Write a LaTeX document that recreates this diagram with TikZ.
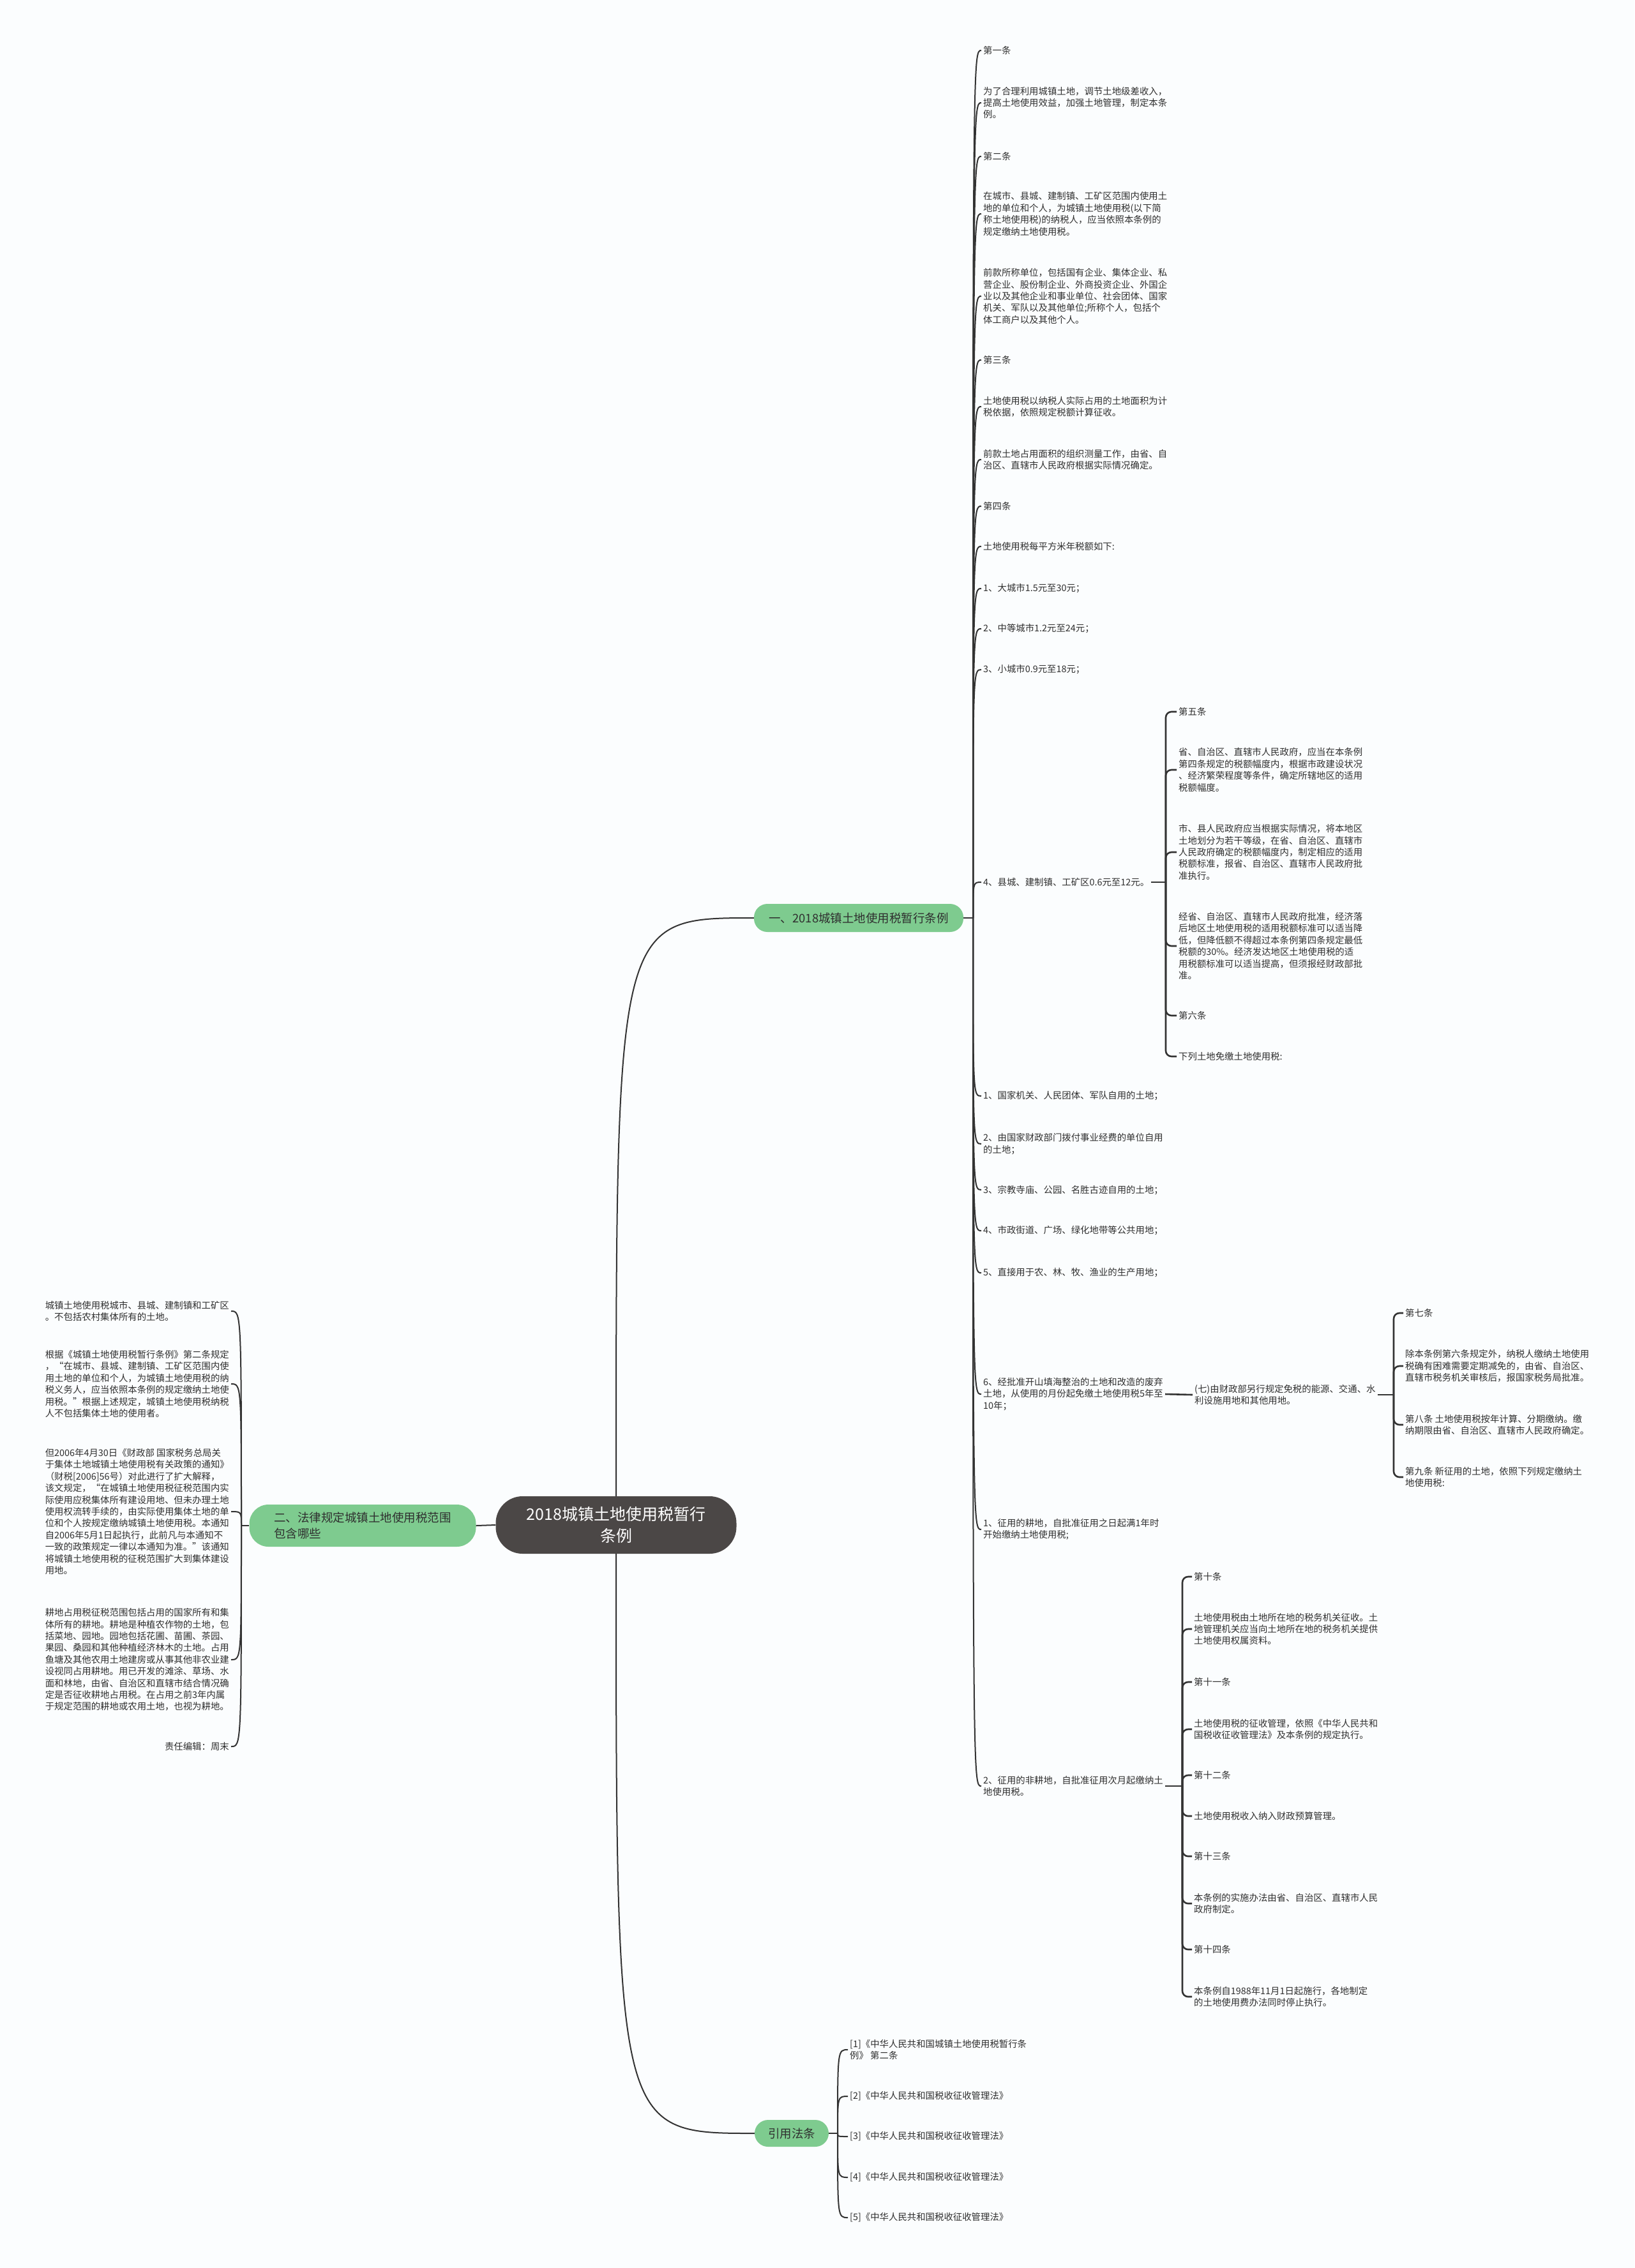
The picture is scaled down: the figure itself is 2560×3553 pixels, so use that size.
\documentclass[tikz,border=0pt]{standalone}
\usepackage{fontspec}
\setmainfont{Noto Sans CJK SC}
\usepackage{xcolor}
\usepackage{tikz}
\usetikzlibrary{calc}
\definecolor{pagebg}{HTML}{FBFDFE}
\definecolor{rootgray}{HTML}{4B4746}
\definecolor{topicgreen}{HTML}{7ECB8F}
\definecolor{linkgray}{HTML}{333333}
\definecolor{textgray}{HTML}{2F2F2F}

\tikzset{
    leaf/.style={inner xsep=3pt, inner ysep=2pt, align=left, text=textgray,
                 font=\fontsize{14.4}{18.4}\selectfont},
    topic/.style={fill=topicgreen, rounded corners=21pt, text=textgray, inner xsep=0pt,
                  font=\fontsize{18.5}{25}\selectfont},
    link/.style={draw=linkgray, line width=2pt},
    bracket/.style={draw=linkgray, line width=2.6pt, rounded corners=9pt},
}

\begin{document}
\begin{tikzpicture}[x=1pt, y=-1pt]
    \useasboundingbox (0,0) rectangle (2560,3553);
    \fill[pagebg] (0,0) rectangle (2560,3553);

    % centre and main topics
    \node[fill=rootgray, rounded corners=42pt, minimum width=377pt, minimum height=90pt,
          text=white, align=center, font=\fontsize{25}{34}\selectfont] (root) at (965,2389)
          {2018城镇土地使用税暂行\\条例};
    \node[topic, minimum width=328pt, minimum height=44pt] (t1) at (1345,1438)
          {一、2018城镇土地使用税暂行条例};
    \node[topic, minimum width=355pt, minimum height=66pt, rounded corners=30pt, align=left] (t2) at (568,2390)
          {二、法律规定城镇土地使用税范围\\包含哪些};
    \node[topic, minimum width=116pt, minimum height=42pt] (t3) at (1240,3342) {引用法条};

    \draw[link] (root.north) .. controls (root.north |- t1.west) .. (t1.west);
    \draw[link] (root.south) .. controls (root.south |- t3.west) .. (t3.west);
    \draw[link] (root.west) -- (t2.east);

    % first topic
    \node[leaf, anchor=west] (a1) at (1537,79) {第一条};
    \node[leaf, anchor=west] (a2) at (1537,161) {为了合理利用城镇土地，调节土地级差收入，\\提高土地使用效益，加强土地管理，制定本条\\例。};
    \node[leaf, anchor=west] (a3) at (1537,245) {第二条};
    \node[leaf, anchor=west] (a4) at (1537,335) {在城市、县城、建制镇、工矿区范围内使用土\\地的单位和个人，为城镇土地使用税(以下简\\称土地使用税)的纳税人，应当依照本条例的\\规定缴纳土地使用税。};
    \node[leaf, anchor=west] (a5) at (1537,464) {前款所称单位，包括国有企业、集体企业、私\\营企业、股份制企业、外商投资企业、外国企\\业以及其他企业和事业单位、社会团体、国家\\机关、军队以及其他单位;所称个人，包括个\\体工商户以及其他个人。};
    \node[leaf, anchor=west] (a6) at (1537,564) {第三条};
    \node[leaf, anchor=west] (a7) at (1537,637) {土地使用税以纳税人实际占用的土地面积为计\\税依据，依照规定税额计算征收。};
    \node[leaf, anchor=west] (a8) at (1537,720) {前款土地占用面积的组织测量工作，由省、自\\治区、直辖市人民政府根据实际情况确定。};
    \node[leaf, anchor=west] (a9) at (1537,793) {第四条};
    \node[leaf, anchor=west] (a10) at (1537,856) {土地使用税每平方米年税额如下:};
    \node[leaf, anchor=west] (a11) at (1537,922) {1、大城市1.5元至30元；};
    \node[leaf, anchor=west] (a12) at (1537,985) {2、中等城市1.2元至24元；};
    \node[leaf, anchor=west] (a13) at (1537,1049) {3、小城市0.9元至18元；};
    \node[leaf, anchor=west] (a14) at (1537,1382) {4、县城、建制镇、工矿区0.6元至12元。};
    \node[leaf, anchor=west] (a15) at (1537,1717) {1、国家机关、人民团体、军队自用的土地；};
    \node[leaf, anchor=west] (a16) at (1537,1792) {2、由国家财政部门拨付事业经费的单位自用\\的土地；};
    \node[leaf, anchor=west] (a17) at (1537,1864) {3、宗教寺庙、公园、名胜古迹自用的土地；};
    \node[leaf, anchor=west] (a18) at (1537,1928) {4、市政街道、广场、绿化地带等公共用地；};
    \node[leaf, anchor=west] (a19) at (1537,1994) {5、直接用于农、林、牧、渔业的生产用地；};
    \node[leaf, anchor=west] (a20) at (1537,2184) {6、经批准开山填海整治的土地和改造的废弃\\土地，从使用的月份起免缴土地使用税5年至\\10年；};
    \node[leaf, anchor=west] (a21) at (1537,2396) {1、征用的耕地，自批准征用之日起满1年时\\开始缴纳土地使用税;};
    \node[leaf, anchor=west] (a22) at (1537,2798) {2、征用的非耕地，自批准征用次月起缴纳土\\地使用税。};

    \coordinate (j1) at (1524,1438);
    \draw[link] (t1.east) -- (j1);
    \foreach \i in {1,...,22}
        \draw[link] (j1) .. controls (j1 |- a\i.west) .. (a\i.west);

    \node[leaf, anchor=west] (b1) at (1843,1115) {第五条};
    \node[leaf, anchor=west] (b2) at (1843,1206) {省、自治区、直辖市人民政府，应当在本条例\\第四条规定的税额幅度内，根据市政建设状况\\、经济繁荣程度等条件，确定所辖地区的适用\\税额幅度。};
    \node[leaf, anchor=west] (b3) at (1843,1335) {市、县人民政府应当根据实际情况，将本地区\\土地划分为若干等级，在省、自治区、直辖市\\人民政府确定的税额幅度内，制定相应的适用\\税额标准，报省、自治区、直辖市人民政府批\\准执行。};
    \node[leaf, anchor=west] (b4) at (1843,1482) {经省、自治区、直辖市人民政府批准，经济落\\后地区土地使用税的适用税额标准可以适当降\\低，但降低额不得超过本条例第四条规定最低\\税额的30\%。经济发达地区土地使用税的适\\用税额标准可以适当提高，但须报经财政部批\\准。};
    \node[leaf, anchor=west] (b5) at (1843,1591) {第六条};
    \node[leaf, anchor=west] (b6) at (1843,1655) {下列土地免缴土地使用税:};

    \coordinate (j5) at (1826,1382);
    \draw[bracket] (a14.east) -- (j5);
    \foreach \i in {1,...,6}
        \draw[bracket] (j5) |- (b\i.west);

    \node[leaf, anchor=west] (c1) at (1868,2185) {(七)由财政部另行规定免税的能源、交通、水\\利设施用地和其他用地。};
    \draw[bracket] (a20.east) -- (c1.west);

    \node[leaf, anchor=west] (d1) at (2198,2057) {第七条};
    \node[leaf, anchor=west] (d2) at (2198,2140) {除本条例第六条规定外，纳税人缴纳土地使用\\税确有困难需要定期减免的，由省、自治区、\\直辖市税务机关审核后，报国家税务局批准。};
    \node[leaf, anchor=west] (d3) at (2198,2232) {第八条 土地使用税按年计算、分期缴纳。缴\\纳期限由省、自治区、直辖市人民政府确定。};
    \node[leaf, anchor=west] (d4) at (2198,2314) {第九条 新征用的土地，依照下列规定缴纳土\\地使用税:};

    \coordinate (j7) at (2183,2185);
    \draw[bracket] (c1.east) -- (j7);
    \foreach \i in {1,...,4}
        \draw[bracket] (j7) |- (d\i.west);

    \node[leaf, anchor=west] (e1) at (1867,2470) {第十条};
    \node[leaf, anchor=west] (e2) at (1867,2552) {土地使用税由土地所在地的税务机关征收。土\\地管理机关应当向土地所在地的税务机关提供\\土地使用权属资料。};
    \node[leaf, anchor=west] (e3) at (1867,2635) {第十一条};
    \node[leaf, anchor=west] (e4) at (1867,2709) {土地使用税的征收管理，依照《中华人民共和\\国税收征收管理法》及本条例的规定执行。};
    \node[leaf, anchor=west] (e5) at (1867,2781) {第十二条};
    \node[leaf, anchor=west] (e6) at (1867,2845) {土地使用税收入纳入财政预算管理。};
    \node[leaf, anchor=west] (e7) at (1867,2908) {第十三条};
    \node[leaf, anchor=west] (e8) at (1867,2982) {本条例的实施办法由省、自治区、直辖市人民\\政府制定。};
    \node[leaf, anchor=west] (e9) at (1867,3054) {第十四条};
    \node[leaf, anchor=west] (e10) at (1867,3128) {本条例自1988年11月1日起施行，各地制定\\的土地使用费办法同时停止执行。};

    \coordinate (j8) at (1852,2798);
    \draw[bracket] (a22.east) -- (j8);
    \foreach \i in {1,...,10}
        \draw[bracket] (j8) |- (e\i.west);

    % second topic, on the left
    \node[leaf, anchor=east] (l1) at (362,2054) {城镇土地使用税城市、县城、建制镇和工矿区\\。不包括农村集体所有的土地。};
    \node[leaf, anchor=east] (l2) at (362,2168) {根据《城镇土地使用税暂行条例》第二条规定\\，“在城市、县城、建制镇、工矿区范围内使\\用土地的单位和个人，为城镇土地使用税的纳\\税义务人，应当依照本条例的规定缴纳土地使\\用税。”根据上述规定，城镇土地使用税纳税\\人不包括集体土地的使用者。};
    \node[leaf, anchor=east] (l3) at (362,2368) {但2006年4月30日《财政部 国家税务总局关\\于集体土地城镇土地使用税有关政策的通知》\\（财税[2006]56号）对此进行了扩大解释，\\该文规定，“在城镇土地使用税征税范围内实\\际使用应税集体所有建设用地、但未办理土地\\使用权流转手续的，由实际使用集体土地的单\\位和个人按规定缴纳城镇土地使用税。本通知\\自2006年5月1日起执行，此前凡与本通知不\\一致的政策规定一律以本通知为准。”该通知\\将城镇土地使用税的征税范围扩大到集体建设\\用地。};
    \node[leaf, anchor=east] (l4) at (362,2600) {耕地占用税征税范围包括占用的国家所有和集\\体所有的耕地。耕地是种植农作物的土地，包\\括菜地、园地。园地包括花圃、苗圃、茶园、\\果园、桑园和其他种植经济林木的土地。占用\\鱼塘及其他农用土地建房或从事其他非农业建\\设视同占用耕地。用已开发的滩涂、草场、水\\面和林地，由省、自治区和直辖市结合情况确\\定是否征收耕地占用税。在占用之前3年内属\\于规定范围的耕地或农用土地，也视为耕地。};
    \node[leaf, anchor=east] (l5) at (362,2736) {责任编辑：周末};

    \coordinate (jl) at (378,2390);
    \draw[link] (t2.west) -- (jl);
    \foreach \i in {1,...,5}
        \draw[link] (jl) .. controls (jl |- l\i.east) .. (l\i.east);

    % third topic
    \node[leaf, anchor=west] (r1) at (1328,3211) {[1]《中华人民共和国城镇土地使用税暂行条\\例》 第二条};
    \foreach \i/\y in {2/3284, 3/3347, 4/3411, 5/3474}
        \node[leaf, anchor=west] (r\i) at (1328,\y) {[\i]《中华人民共和国税收征收管理法》};

    \coordinate (j3) at (1312,3342);
    \draw[link] (t3.east) -- (j3);
    \foreach \i in {1,...,5}
        \draw[link] (j3) .. controls (j3 |- r\i.west) .. (r\i.west);
\end{tikzpicture}
\end{document}
